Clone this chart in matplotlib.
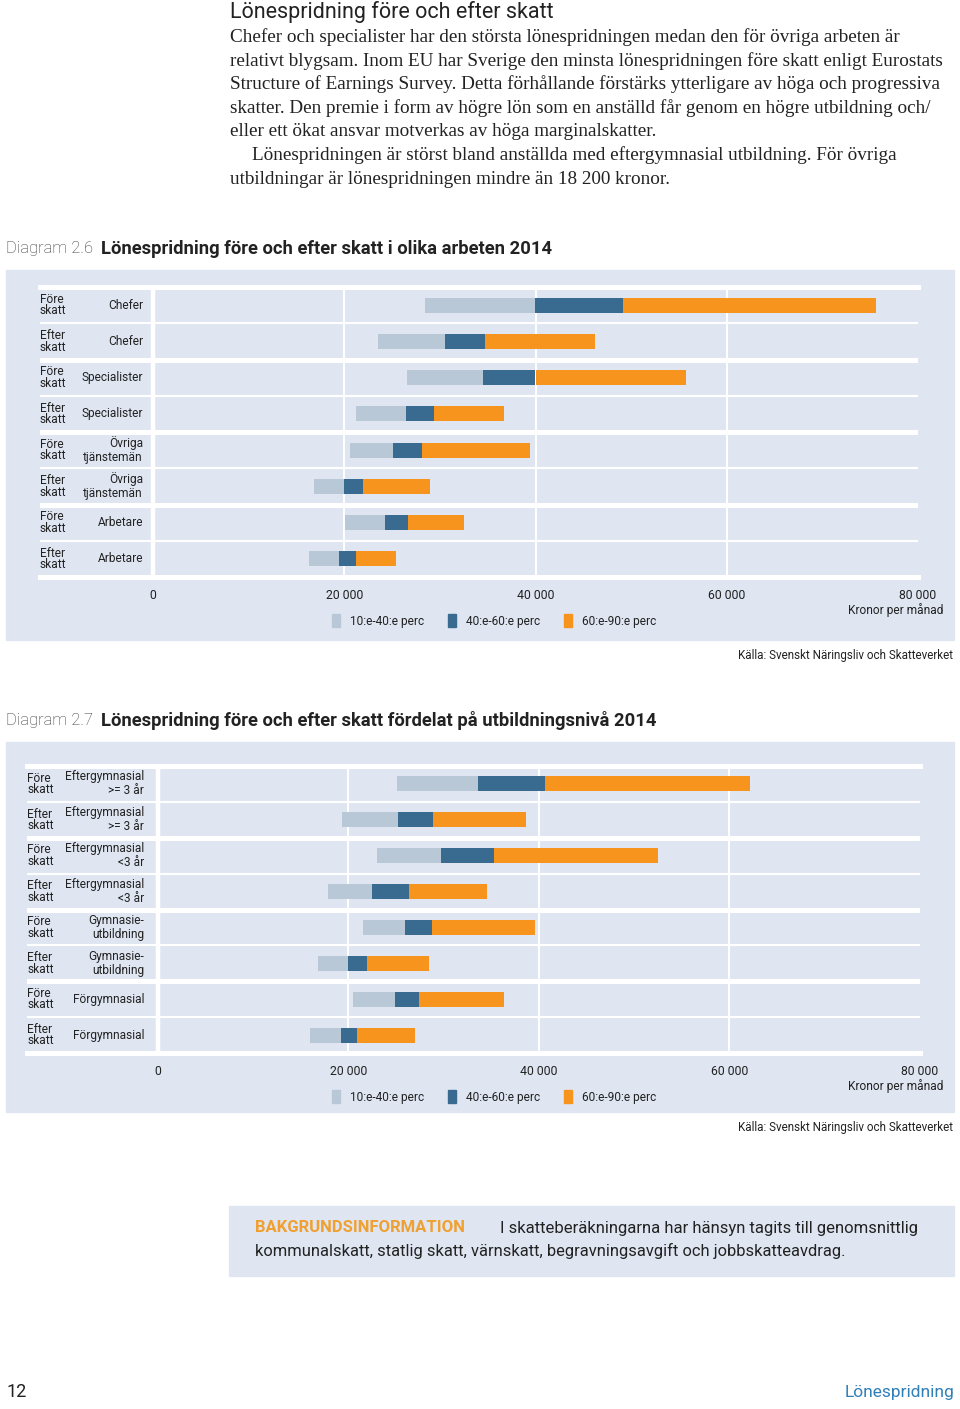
import numpy as np
import matplotlib
matplotlib.use('Agg')
import matplotlib.pyplot as plt
from matplotlib.patches import Rectangle, Patch
from matplotlib import transforms

W, H = 960, 1409

# Diagram 2.6 - olika arbeten (kronor per månad, percentilgränser)
jobb_rader = ['Chefer', 'Chefer', 'Specialister', 'Specialister',
              'Övriga\ntjänstemän', 'Övriga\ntjänstemän', 'Arbetare', 'Arbetare']
jobb_p10 = [28400, 23500, 26600, 21200, 20600, 16800, 20100, 16300]
jobb_p40 = [39900, 30500, 34500, 26500, 25100, 20000, 24300, 19500]
jobb_p60 = [49100, 34700, 40000, 29400, 28100, 22000, 26700, 21200]
jobb_p90 = [75600, 46200, 55700, 36700, 39400, 29000, 32500, 25400]

# Diagram 2.7 - utbildningsnivå
utb_rader = ['Eftergymnasial\n>= 3 år', 'Eftergymnasial\n>= 3 år',
             'Eftergymnasial\n<3 år', 'Eftergymnasial\n<3 år',
             'Gymnasie-\nutbildning', 'Gymnasie-\nutbildning',
             'Förgymnasial', 'Förgymnasial']
utb_p10 = [25100, 19300, 23000, 17800, 21500, 16750, 20500, 16000]
utb_p40 = [33600, 25200, 29700, 22500, 25900, 19900, 24900, 19200]
utb_p60 = [40600, 28900, 35250, 26300, 28800, 21900, 27400, 20900]
utb_p90 = [62200, 38600, 52500, 34500, 39600, 28400, 36300, 27000]

skatt_rader = ['Före\nskatt', 'Efter\nskatt'] * 4
serier = ['10:e-40:e perc', '40:e-60:e perc', '60:e-90:e perc']
xticks = [0, 20000, 40000, 60000, 80000]
xticklabels = ['0', '20 000', '40 000', '60 000', '80 000']

BG = '#dfe6f2'
C_LIGHT = '#b8c8d6'
C_DARK = '#386b8f'
C_ORANGE = '#f7941d'
TXT = '#222222'

plt.rcParams['font.family'] = ['Roboto', 'DejaVu Sans']

fig = plt.figure(figsize=(W / 100, H / 100), dpi=100)


def fx(px):
    return px / W


def fy(py):
    return 1 - py / H


def rect(x0, y0, x1, y1, color):
    fig.patches.append(Rectangle((fx(x0), fy(y1)), (x1 - x0) / W, (y1 - y0) / H,
                                 transform=fig.transFigure, color=color, zorder=-5))


# ---------- text above ----------
fig.text(fx(230), fy(12), 'Lönespridning före och efter skatt', fontsize=15.5,
         color=TXT, va='center')
body = [
    (230, 'Chefer och specialister har den största lönespridningen medan den för övriga arbeten är'),
    (230, 'relativt blygsam. Inom EU har Sverige den minsta lönespridningen före skatt enligt Eurostats'),
    (230, 'Structure of Earnings Survey. Detta förhållande förstärks ytterligare av höga och progressiva'),
    (230, 'skatter. Den premie i form av högre lön som en anställd får genom en högre utbildning och/'),
    (230, 'eller ett ökat ansvar motverkas av höga marginalskatter.'),
    (252, 'Lönespridningen är störst bland anställda med eftergymnasial utbildning. För övriga'),
    (230, 'utbildningar är lönespridningen mindre än 18 200 kronor.'),
]
for i, (x, line) in enumerate(body):
    fig.text(fx(x), fy(37 + i * 23.7), line, fontsize=13.75, family='Liberation Serif',
             color=TXT, va='center')


def chart(top_title, title, diag, left, zero, right, top, bottom, rader,
          p10, p40, p60, p90, skatt_x, cat_x, panel_top, panel_bottom):
    rect(6, panel_top, 954, panel_bottom, BG)
    fig.text(fx(6), fy(top_title), diag, fontsize=12, fontweight='light',
             color='#333333', va='center')
    fig.text(fx(101), fy(top_title), title, fontsize=13.2, fontweight='bold',
             color=TXT, va='center')

    ax = fig.add_axes([fx(left), fy(bottom), (right - left) / W, (bottom - top) / H])
    ax.set_facecolor(BG)
    n = len(rader)
    y = np.arange(n)
    p10, p40, p60, p90 = map(np.array, (p10, p40, p60, p90))
    ax.set_xlim(-(zero - left) / (right - zero) * 80000, 80000)
    ax.set_ylim(n - 0.5, -0.5)

    for g in xticks[1:-1]:
        ax.axvline(g, color='white', lw=1.4, zorder=0.5)
    ax.axvline(0, color='white', lw=3.2, zorder=0.6)
    for k in range(n + 1):
        b = k - 0.5
        thick = k % 2 == 0
        ax.axhline(b, color='white', lw=3.6 if thick else 1.5, zorder=0.7,
                   clip_on=(0 < k < n))

    h = 0.42
    ax.barh(y, p40 - p10, left=p10, height=h, color=C_LIGHT, zorder=2, label=serier[0])
    ax.barh(y, p60 - p40, left=p40, height=h, color=C_DARK, zorder=2, label=serier[1])
    ax.barh(y, p90 - p60, left=p60, height=h, color=C_ORANGE, zorder=2, label=serier[2])

    ax.set_xticks(xticks)
    ax.set_xticklabels(xticklabels)
    ax.tick_params(axis='x', length=0, pad=8.5, labelsize=8.8, labelcolor=TXT)
    ax.set_yticks([])
    for s in ax.spines.values():
        s.set_visible(False)

    trans = transforms.blended_transform_factory(fig.transFigure, ax.transData)
    for i in range(n):
        ax.text(fx(skatt_x), i, skatt_rader[i], transform=trans, ha='left', va='center',
                fontsize=8.6, linespacing=0.85, color=TXT)
        ax.text(fx(cat_x), i, rader[i], transform=trans, ha='right', va='center',
                multialignment='right', fontsize=8.6, linespacing=1.1, color=TXT)

    fig.text(fx(943), fy(bottom + 33), 'Kronor per månad', fontsize=8.6,
             ha='right', va='center', color=TXT)
    handles = [Patch(color=c, label=l) for c, l in zip([C_LIGHT, C_DARK, C_ORANGE], serier)]
    fig.legend(handles=handles, loc='center', bbox_to_anchor=(fx(494), fy(bottom + 44)),
               ncol=3, frameon=False, fontsize=8.6, handlelength=0.7, handleheight=1.2,
               handletextpad=0.8, columnspacing=2.0, labelcolor=TXT)
    fig.text(fx(953), fy(panel_bottom + 16), 'Källa: Svenskt Näringsliv och Skatteverket',
             fontsize=8.35, ha='right', va='center', color=TXT)


chart(249, 'Lönespridning före och efter skatt i olika arbeten 2014', 'Diagram 2.6',
      40, 153, 918, 287, 577, jobb_rader, jobb_p10, jobb_p40, jobb_p60, jobb_p90,
      40, 143, 270, 640)
chart(721, 'Lönespridning före och efter skatt fördelat på utbildningsnivå 2014', 'Diagram 2.7',
      27, 158, 920, 766, 1053, utb_rader, utb_p10, utb_p40, utb_p60, utb_p90,
      27, 144, 742, 1112)

# ---------- info box ----------
rect(229, 1206, 954, 1276, BG)
fig.text(fx(255), fy(1228), 'BAKGRUNDSINFORMATION', fontsize=12, fontweight='bold',
         color='#f0a030', va='center')
fig.text(fx(500), fy(1228), 'I skatteberäkningarna har hänsyn tagits till genomsnittlig',
         fontsize=12, color=TXT, va='center')
fig.text(fx(255), fy(1251),
         'kommunalskatt, statlig skatt, värnskatt, begravningsavgift och jobbskatteavdrag.',
         fontsize=11.9, color=TXT, va='center')

# ---------- footer ----------
fig.text(fx(6), fy(1392), '12', fontsize=13, color=TXT, va='center')
fig.text(fx(955), fy(1392), 'Lönespridning', fontsize=12.5,
         color='#2f7fb8', ha='right', va='center')

fig.savefig('out.png', dpi=100, facecolor='white')
